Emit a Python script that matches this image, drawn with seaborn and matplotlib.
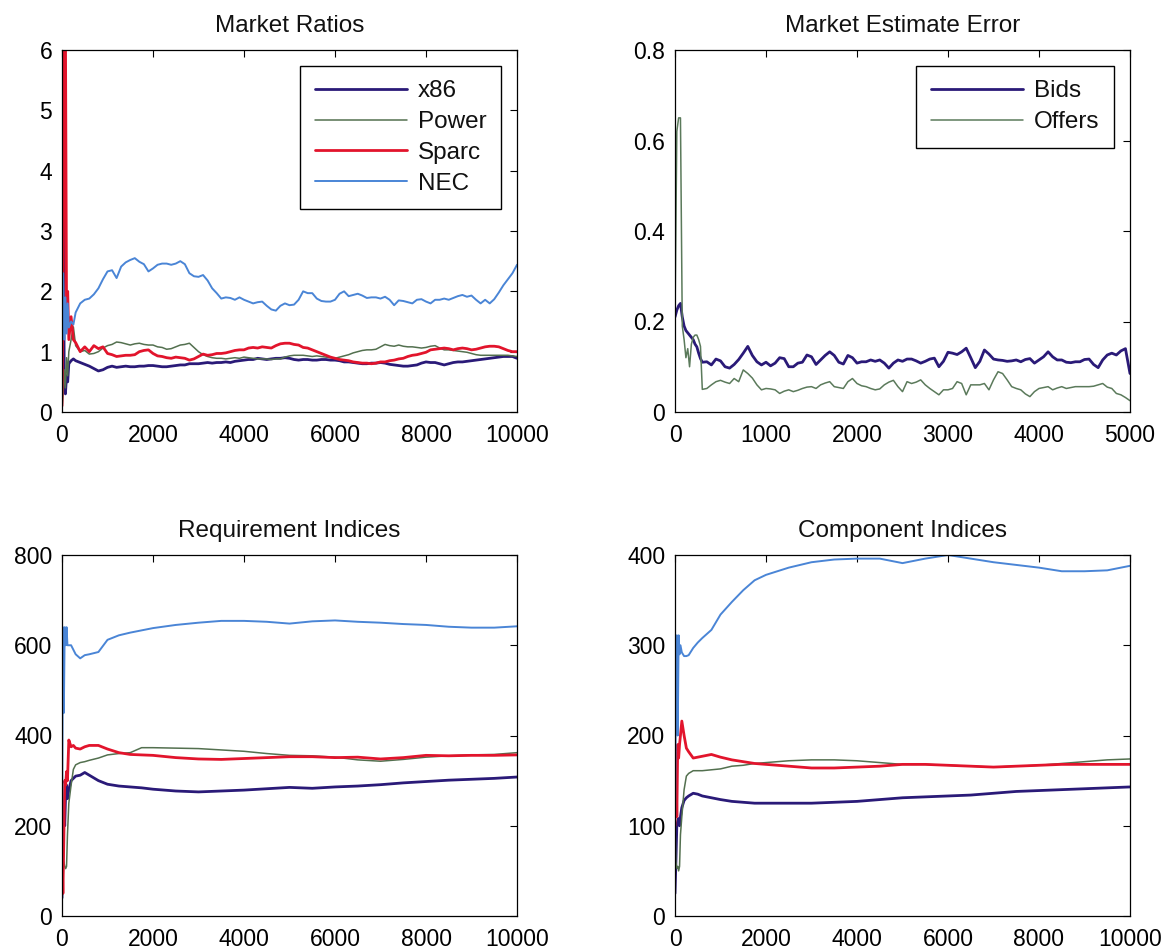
import numpy as np
import pandas as pd
import matplotlib
matplotlib.use("Agg")
import matplotlib.pyplot as plt
import seaborn as sns
from matplotlib.ticker import FuncFormatter

# ---------------- data ----------------
# Market Ratios
ratio_steps = [0, 25, 50, 75, 100, 125, 150, 200, 250] + list(range(300, 10001, 100))
ratio_x86 = [0.30, 3.90, 0.50, 0.30, 0.60, 0.50, 0.80, 0.85, 0.88,
             0.85, 0.82, 0.79, 0.76, 0.72, 0.68, 0.70, 0.74, 0.76, 0.74,
             0.75, 0.76, 0.75, 0.75, 0.76, 0.76, 0.77, 0.77, 0.76, 0.75,
             0.75, 0.76, 0.77, 0.78, 0.78, 0.80, 0.80, 0.80, 0.81, 0.82,
             0.81, 0.82, 0.82, 0.83, 0.82, 0.84, 0.85, 0.86, 0.87, 0.87,
             0.89, 0.88, 0.87, 0.88, 0.89, 0.89, 0.90, 0.89, 0.87, 0.86,
             0.87, 0.87, 0.86, 0.86, 0.87, 0.87, 0.86, 0.86, 0.85, 0.83,
             0.83, 0.82, 0.81, 0.80, 0.80, 0.81, 0.81, 0.82, 0.81, 0.79,
             0.78, 0.77, 0.76, 0.76, 0.77, 0.78, 0.81, 0.83, 0.82, 0.82,
             0.80, 0.78, 0.80, 0.82, 0.83, 0.83, 0.84, 0.85, 0.86, 0.87,
             0.88, 0.89, 0.90, 0.91, 0.92, 0.92, 0.92, 0.89]
ratio_power = [0.05, 0.30, 0.70, 0.40, 0.90, 0.60, 1.00, 1.20, 1.41,
               1.10, 1.00, 1.02, 0.96, 0.97, 1.00, 1.06, 1.10, 1.12, 1.16,
               1.15, 1.13, 1.11, 1.13, 1.14, 1.12, 1.11, 1.11, 1.08, 1.07,
               1.04, 1.05, 1.08, 1.11, 1.12, 1.14, 1.07, 1.00, 0.95, 0.92,
               0.90, 0.89, 0.89, 0.88, 0.89, 0.90, 0.89, 0.91, 0.90, 0.89,
               0.88, 0.88, 0.88, 0.87, 0.88, 0.88, 0.91, 0.93, 0.94, 0.94,
               0.94, 0.93, 0.92, 0.93, 0.92, 0.91, 0.90, 0.89, 0.91, 0.93,
               0.95, 0.98, 1.00, 1.02, 1.03, 1.03, 1.04, 1.08, 1.12, 1.10,
               1.09, 1.11, 1.09, 1.08, 1.08, 1.07, 1.06, 1.07, 1.09, 1.10,
               1.06, 1.03, 1.03, 1.02, 1.01, 1.00, 0.99, 0.97, 0.95, 0.94,
               0.94, 0.94, 0.94, 0.94, 0.94, 0.94, 0.93, 0.92]
ratio_sparc = [0.10, 2.30, 6.50, 6.50, 1.60, 2.00, 1.20, 1.58, 1.20,
               1.15, 1.00, 1.08, 1.00, 1.10, 1.05, 1.08, 0.97, 0.95, 0.92,
               0.93, 0.94, 0.94, 0.95, 1.00, 1.02, 1.03, 0.97, 0.93, 0.92,
               0.90, 0.89, 0.91, 0.90, 0.89, 0.86, 0.88, 0.92, 0.96, 0.94,
               0.95, 0.97, 0.97, 0.98, 1.00, 1.02, 1.03, 1.03, 1.06, 1.07,
               1.06, 1.08, 1.07, 1.06, 1.10, 1.13, 1.14, 1.14, 1.12, 1.11,
               1.07, 1.06, 1.03, 1.00, 0.97, 0.94, 0.91, 0.89, 0.87, 0.86,
               0.85, 0.83, 0.82, 0.81, 0.81, 0.80, 0.81, 0.83, 0.83, 0.85,
               0.86, 0.88, 0.89, 0.92, 0.94, 0.95, 0.97, 0.99, 1.03, 1.04,
               1.05, 1.06, 1.05, 1.03, 1.05, 1.06, 1.05, 1.03, 1.04, 1.06,
               1.08, 1.09, 1.09, 1.08, 1.05, 1.02, 1.00, 1.00]
ratio_nec = [1.50, 2.30, 1.20, 1.90, 1.30, 1.80, 1.40, 1.50, 1.45,
             1.65, 1.80, 1.86, 1.88, 1.95, 2.05, 2.20, 2.33, 2.35, 2.22,
             2.41, 2.48, 2.52, 2.55, 2.49, 2.45, 2.33, 2.38, 2.44, 2.46,
             2.46, 2.44, 2.46, 2.50, 2.45, 2.30, 2.25, 2.24, 2.27, 2.18,
             2.05, 1.97, 1.88, 1.90, 1.89, 1.86, 1.90, 1.86, 1.83, 1.80,
             1.82, 1.83, 1.76, 1.70, 1.68, 1.76, 1.80, 1.77, 1.78, 1.86,
             2.00, 1.97, 1.97, 1.88, 1.84, 1.83, 1.83, 1.86, 1.96, 2.00,
             1.92, 1.94, 1.96, 1.93, 1.89, 1.90, 1.90, 1.88, 1.91, 1.86,
             1.77, 1.85, 1.84, 1.82, 1.80, 1.86, 1.87, 1.83, 1.80, 1.86,
             1.86, 1.88, 1.86, 1.89, 1.92, 1.94, 1.91, 1.93, 1.86, 1.80,
             1.86, 1.80, 1.87, 1.98, 2.10, 2.20, 2.30, 2.44]

# Market Estimate Error
err_steps = list(range(0, 301, 20)) + list(range(350, 5001, 50))
err_bids = [0.210, 0.225, 0.235, 0.240, 0.210, 0.190, 0.180, 0.175, 0.170, 0.165,
            0.160, 0.150, 0.144, 0.130, 0.118, 0.110,
            0.111, 0.104, 0.117, 0.113, 0.100, 0.097, 0.105, 0.116, 0.130, 0.145,
            0.125, 0.111, 0.104, 0.110, 0.102, 0.108, 0.120, 0.118, 0.100, 0.100,
            0.108, 0.110, 0.126, 0.122, 0.105, 0.115, 0.125, 0.133, 0.125, 0.110,
            0.106, 0.125, 0.120, 0.108, 0.111, 0.111, 0.115, 0.112, 0.115, 0.108,
            0.097, 0.108, 0.115, 0.112, 0.117, 0.117, 0.113, 0.108, 0.112, 0.117,
            0.119, 0.100, 0.112, 0.132, 0.130, 0.127, 0.133, 0.141, 0.120, 0.098,
            0.112, 0.137, 0.128, 0.117, 0.115, 0.114, 0.112, 0.113, 0.115, 0.111,
            0.116, 0.118, 0.108, 0.115, 0.122, 0.133, 0.122, 0.115, 0.115, 0.110,
            0.109, 0.111, 0.111, 0.116, 0.117, 0.105, 0.098, 0.115, 0.126, 0.130,
            0.126, 0.135, 0.140, 0.085]
err_offers = [0.210, 0.620, 0.650, 0.650, 0.190, 0.160, 0.120, 0.140, 0.100, 0.150,
              0.165, 0.170, 0.170, 0.160, 0.145, 0.050,
              0.052, 0.060, 0.067, 0.070, 0.066, 0.063, 0.074, 0.067, 0.093, 0.085,
              0.075, 0.060, 0.049, 0.052, 0.051, 0.049, 0.041, 0.046, 0.049, 0.045,
              0.048, 0.052, 0.055, 0.056, 0.052, 0.060, 0.064, 0.067, 0.056, 0.054,
              0.052, 0.067, 0.074, 0.063, 0.058, 0.056, 0.052, 0.049, 0.051, 0.060,
              0.066, 0.070, 0.056, 0.045, 0.067, 0.063, 0.066, 0.071, 0.060, 0.052,
              0.045, 0.038, 0.049, 0.049, 0.052, 0.067, 0.063, 0.038, 0.060, 0.060,
              0.060, 0.063, 0.049, 0.071, 0.089, 0.085, 0.071, 0.056, 0.052, 0.049,
              0.040, 0.034, 0.045, 0.052, 0.054, 0.056, 0.049, 0.053, 0.056, 0.052,
              0.054, 0.056, 0.056, 0.056, 0.056, 0.057, 0.060, 0.063, 0.055, 0.052,
              0.041, 0.038, 0.032, 0.025]

# Requirement / Component Indices
idx_steps = [0, 20, 40, 60, 80, 100, 120, 150, 200, 250, 300, 400, 500, 600, 800,
             1000, 1250, 1500, 1750, 2000, 2500, 3000, 3500, 4000, 4500, 5000,
             5500, 6000, 6500, 7000, 7500, 8000, 8500, 9000, 9500, 10000]
req_x86 = [40, 120, 250, 200, 270, 290, 260, 280, 300, 305,
           310, 312, 318, 312, 300, 292, 288, 286, 284, 281,
           277, 275, 277, 279, 282, 285, 283, 286, 288, 291,
           295, 298, 301, 303, 305, 308]
req_power = [150, 110, 120, 110, 105, 110, 180, 250, 290, 325,
             335, 340, 342, 345, 350, 357, 360, 362, 373, 373,
             372, 371, 368, 365, 360, 356, 355, 352, 346, 343,
             347, 352, 355, 357, 358, 362]
req_sparc = [150, 50, 170, 300, 290, 320, 300, 390, 375, 378,
             372, 370, 375, 378, 378, 370, 362, 358, 357, 356,
             351, 348, 347, 349, 351, 353, 353, 351, 352, 348,
             351, 356, 355, 356, 356, 357]
req_nec = [120, 640, 450, 640, 600, 640, 600, 600, 600, 590,
           580, 571, 578, 580, 585, 612, 622, 628, 633, 638,
           645, 650, 654, 654, 652, 648, 653, 655, 652, 650,
           647, 645, 641, 639, 639, 642]
comp_x86 = [25, 60, 100, 105, 108, 100, 110, 120, 128, 131,
            133, 136, 135, 133, 131, 129, 127, 126, 125, 125,
            125, 125, 126, 127, 129, 131, 132, 133, 134, 136,
            138, 139, 140, 141, 142, 143]
comp_power = [100, 60, 53, 55, 50, 55, 90, 110, 140, 155,
              158, 161, 161, 161, 162, 163, 166, 167, 169, 170,
              172, 173, 173, 172, 170, 168, 168, 167, 166, 165,
              166, 167, 169, 171, 173, 174]
comp_sparc = [100, 180, 110, 190, 175, 190, 200, 216, 200, 186,
              182, 175, 176, 177, 179, 176, 173, 171, 169, 168,
              166, 164, 164, 165, 166, 168, 168, 167, 166, 165,
              166, 167, 168, 168, 168, 168]
comp_nec = [100, 250, 311, 200, 311, 290, 300, 292, 288, 288,
            289, 297, 303, 308, 317, 334, 348, 361, 372, 378,
            386, 392, 395, 396, 396, 391, 396, 400, 396, 392,
            389, 386, 382, 382, 383, 388]

arch_names = ["x86", "Power", "Sparc", "NEC"]
err_names = ["Bids", "Offers"]

# ---------------- style ----------------
sns.set_style("white")
plt.rcParams["font.family"] = ["Liberation Sans", "DejaVu Sans"]
plt.rcParams["text.color"] = "black"

COL = {"x86": "#2a1a78", "Power": "#53704f", "Sparc": "#e2142c", "NEC": "#4a85d6",
       "Bids": "#2a1a78", "Offers": "#5b7a5b"}
LW = {"x86": 2.0, "Power": 1.1, "Sparc": 2.0, "NEC": 1.4, "Bids": 2.0, "Offers": 1.1}

fig = plt.figure(figsize=(11.71, 9.5), dpi=100)
W = 455 / 1171
H = 362 / 950
pos = {
    "tl": [62 / 1171, 1 - 412 / 950, W, H],
    "tr": [675 / 1171, 1 - 412 / 950, W, H],
    "bl": [62 / 1171, 1 - 916 / 950, W, 361 / 950],
    "br": [675 / 1171, 1 - 916 / 950, W, 361 / 950],
}
fmt = FuncFormatter(lambda v, p: "%g" % v)


def style(ax, title, xmax, xticks, ymax, yticks):
    ax.set_xlim(0, xmax)
    ax.set_ylim(0, ymax)
    ax.set_xticks(xticks)
    ax.set_yticks(yticks)
    ax.xaxis.set_major_formatter(fmt)
    ax.yaxis.set_major_formatter(fmt)
    ax.tick_params(direction="in", top=True, right=True, length=5, width=0.8,
                   labelsize=16.5, pad=7, colors="black")
    ax.tick_params(axis="x", pad=9)
    for s in ax.spines.values():
        s.set_visible(True)
        s.set_color("black")
        s.set_linewidth(0.9)
    ax.set_title(title, fontsize=17.5, pad=13, color="#111111")
    ax.set_xlabel("")
    ax.set_ylabel("")


def draw(ax, steps, series, names):
    df = pd.DataFrame({"step": steps})
    for n, vals in zip(names, series):
        df[n] = vals
    for n in names:
        sns.lineplot(data=df, x="step", y=n, ax=ax, color=COL[n], linewidth=LW[n],
                     label=n, estimator=None, sort=False)


def legend(ax):
    leg = ax.legend(loc="upper right", fontsize=17.5, frameon=True, fancybox=False,
                    edgecolor="black", framealpha=1, handlelength=3.8, handletextpad=0.45,
                    labelspacing=0.36, borderpad=0.6, borderaxespad=0.65)
    leg.get_frame().set_linewidth(1.0)
    for t in leg.get_texts():
        t.set_color("#111111")


ax1 = fig.add_axes(pos["tl"])
draw(ax1, ratio_steps, [ratio_x86, ratio_power, ratio_sparc, ratio_nec], arch_names)
style(ax1, "Market Ratios", 10000, range(0, 10001, 2000), 6, range(0, 7))
legend(ax1)

ax2 = fig.add_axes(pos["tr"])
draw(ax2, err_steps, [err_bids, err_offers], err_names)
style(ax2, "Market Estimate Error", 5000, range(0, 5001, 1000), 0.8,
      [0, 0.2, 0.4, 0.6, 0.8])
legend(ax2)

ax3 = fig.add_axes(pos["bl"])
draw(ax3, idx_steps, [req_x86, req_power, req_sparc, req_nec], arch_names)
style(ax3, "Requirement Indices", 10000, range(0, 10001, 2000), 800, range(0, 801, 200))
ax3.get_legend().remove()

ax4 = fig.add_axes(pos["br"])
draw(ax4, idx_steps, [comp_x86, comp_power, comp_sparc, comp_nec], arch_names)
style(ax4, "Component Indices", 10000, range(0, 10001, 2000), 400, range(0, 401, 100))
ax4.get_legend().remove()

fig.savefig("out.png", dpi=100, facecolor="white")
